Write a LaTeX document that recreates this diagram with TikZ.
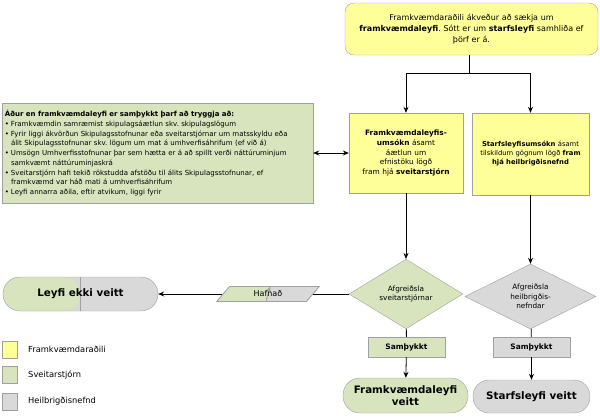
\documentclass[tikz,border=0pt]{standalone}
\usepackage{fontspec}
\setmainfont{DejaVu Sans}
\usetikzlibrary{shapes.geometric, arrows.meta}

\definecolor{gulur}{HTML}{FFFF99}
\definecolor{graenn}{HTML}{D7E4BD}
\definecolor{grar}{HTML}{D9D9D9}
\definecolor{rammi}{HTML}{A0A0A0}

\frenchspacing
\newcommand{\krafa}[1]{\par\noindent\hangindent=6pt\hangafter=1\makebox[6pt][l]{\textbullet}#1}

\begin{document}
\begin{tikzpicture}[x=1pt, y=-1pt, >={Stealth[length=6pt, width=5pt, inset=2pt]}, font=\fontsize{7.4}{9.75}\selectfont,
    box/.style={rectangle, draw=rammi, align=center, inner sep=2pt},
    fm/.style={box, fill=gulur},
    sv/.style={box, fill=graenn},
    he/.style={box, fill=grar},
    tigull/.style={diamond, draw=rammi, align=center, inner sep=0pt, font=\fontsize{7.3}{9.5}\selectfont},
    lok/.style={rectangle, draw=rammi, rounded corners=16pt, align=center, font=\fontsize{10.3}{12}\selectfont\bfseries},
    skyring/.style={rectangle, draw=rammi, minimum width=15pt, minimum height=17pt},
    lina/.style={line width=0.8pt}]

\useasboundingbox (0,0) rectangle (600,418);

% umsoknir
\node[fm, rounded corners=9pt, minimum width=253pt, minimum height=52pt, text width=248pt,
      font=\fontsize{8}{11}\selectfont] (akvordun) at (471.5,29)
      {Framkvæmdaraðili ákveður að sækja um\\ \textbf{framkvæmdaleyfi}. Sótt er um \textbf{starfsleyfi} samhliða ef\\ þörf er á.};
\coordinate (skipting) at (469,73);
\node[fm, minimum width=114pt, minimum height=80pt, text width=110pt] (framumsokn) at (406,153)
      {\textbf{Framkvæmdaleyfis-}\\ \textbf{umsókn} ásamt\\ áætlun um\\ efnistöku lögð\\ fram hjá \textbf{sveitarstjórn}};
\node[fm, minimum width=116pt, minimum height=82pt, text width=113pt,
      font=\fontsize{6.8}{9}\selectfont] (starfsumsokn) at (530.5,154)
      {\textbf{Starfsleyfisumsókn} ásamt\\ tilskildum gögnum lögð \textbf{fram}\\ \textbf{hjá heilbrigðisnefnd}\\[6pt]};
\node[sv, minimum width=311pt, minimum height=100pt, text width=305pt, align=left, inner sep=3pt,
      font=\fontsize{7}{9.75}\selectfont] (skilyrdi) at (157.5,153)
      {\textbf{Áður en framkvæmdaleyfi er samþykkt þarf að tryggja að:}
       \krafa{Framkvæmdin samræmist skipulagsáætlun skv. skipulagslögum}
       \krafa{Fyrir liggi ákvörðun Skipulagsstofnunar eða sveitarstjórnar um matsskyldu eða\newline álit Skipulagsstofnunar skv. lögum um mat á umhverfisáhrifum (ef við á)}
       \krafa{Umsögn Umhverfisstofnunar þar sem hætta er á að spillt verði náttúruminjum\newline samkvæmt náttúruminjaskrá}
       \krafa{Sveitarstjórn hafi tekið rökstudda afstöðu til álits Skipulagsstofnunar, ef\newline framkvæmd var háð mati á umhverfisáhrifum}
       \krafa{Leyfi annarra aðila, eftir atvikum, liggi fyrir}};

% afgreidsla
\node[tigull, fill=graenn, minimum width=114pt, minimum height=56pt] (afgrsv) at (406,294)
      {Afgreiðsla\\ sveitarstjórnar};
\node[tigull, fill=grar, minimum width=131pt, minimum height=63pt] (afgrhe) at (530.5,296.5)
      {Afgreiðsla\\ heilbrigðis-\\ nefndar};
\node[lok, fill=grar, minimum width=155pt, minimum height=34pt, rounded corners=17pt,
      path picture={\fill[graenn] (path picture bounding box.south west) rectangle (path picture bounding box.north);
                    \draw[rammi] (path picture bounding box.south) -- (path picture bounding box.north);}]
      (neitun) at (80.5,294) {Leyfi ekki veitt};
\node[sv, minimum width=77pt, minimum height=20pt, font=\fontsize{7.5}{9}\selectfont\bfseries] (samsv) at (406.5,347) {Samþykkt};
\node[he, minimum width=77pt, minimum height=20pt, font=\fontsize{7.5}{9}\selectfont\bfseries] (samhe) at (531.5,347) {Samþykkt};
\node[lok, fill=graenn, minimum width=125pt, minimum height=35pt, rounded corners=17pt] (leyfisv) at (405.5,395.5)
      {Framkvæmdaleyfi\\ veitt};
\node[lok, fill=grar, minimum width=117pt, minimum height=33pt] (leyfihe) at (531.5,396.5)
      {Starfsleyfi veitt};

% tengingar
\draw[lina] (akvordun.south -| skipting) -- (skipting);
\draw[lina, ->] (skipting) -| (framumsokn);
\draw[lina, ->] (skipting) -| (starfsumsokn);
\draw[lina, <->] (skilyrdi) -- (framumsokn);
\draw[lina, ->] (framumsokn) -- (afgrsv);
\draw[lina, ->] (starfsumsokn) -- (afgrhe);
\draw[lina, ->] (afgrsv) -- node[pos=0.424, trapezium, trapezium left angle=58, trapezium right angle=122,
      trapezium stretches=true, minimum width=103pt, minimum height=15pt, inner sep=1pt, draw=rammi, fill=grar,
      font=\fontsize{8}{9}\selectfont,
      path picture={\fill[graenn] (path picture bounding box.south west) -- ([xshift=-2pt]path picture bounding box.south)
                    -- ([xshift=2pt]path picture bounding box.north) -- (path picture bounding box.north west) -- cycle;
                    \draw[rammi] ([xshift=-2pt]path picture bounding box.south) -- ([xshift=2pt]path picture bounding box.north);}]
      (hafnad) {Hafnað} (neitun);
\draw[lina] (afgrsv) -- (samsv);
\draw[lina] (afgrhe) -- (samhe);
\draw[lina, ->] (samsv) -- (leyfisv);
\draw[lina, ->] (samhe) -- (leyfihe);

% skyringar
\node[skyring, fill=gulur] (sgulur) at (10,349.5) {};
\node[skyring, fill=graenn] (sgraenn) at (10,375) {};
\node[skyring, fill=grar] (sgrar) at (10,401.5) {};
\node[right=7pt, font=\fontsize{8.3}{10}\selectfont] at (sgulur.east) {Framkvæmdaraðili};
\node[right=7pt, font=\fontsize{8.3}{10}\selectfont] at (sgraenn.east) {Sveitarstjórn};
\node[right=7pt, font=\fontsize{8.3}{10}\selectfont] at (sgrar.east) {Heilbrigðisnefnd};
\end{tikzpicture}
\end{document}
